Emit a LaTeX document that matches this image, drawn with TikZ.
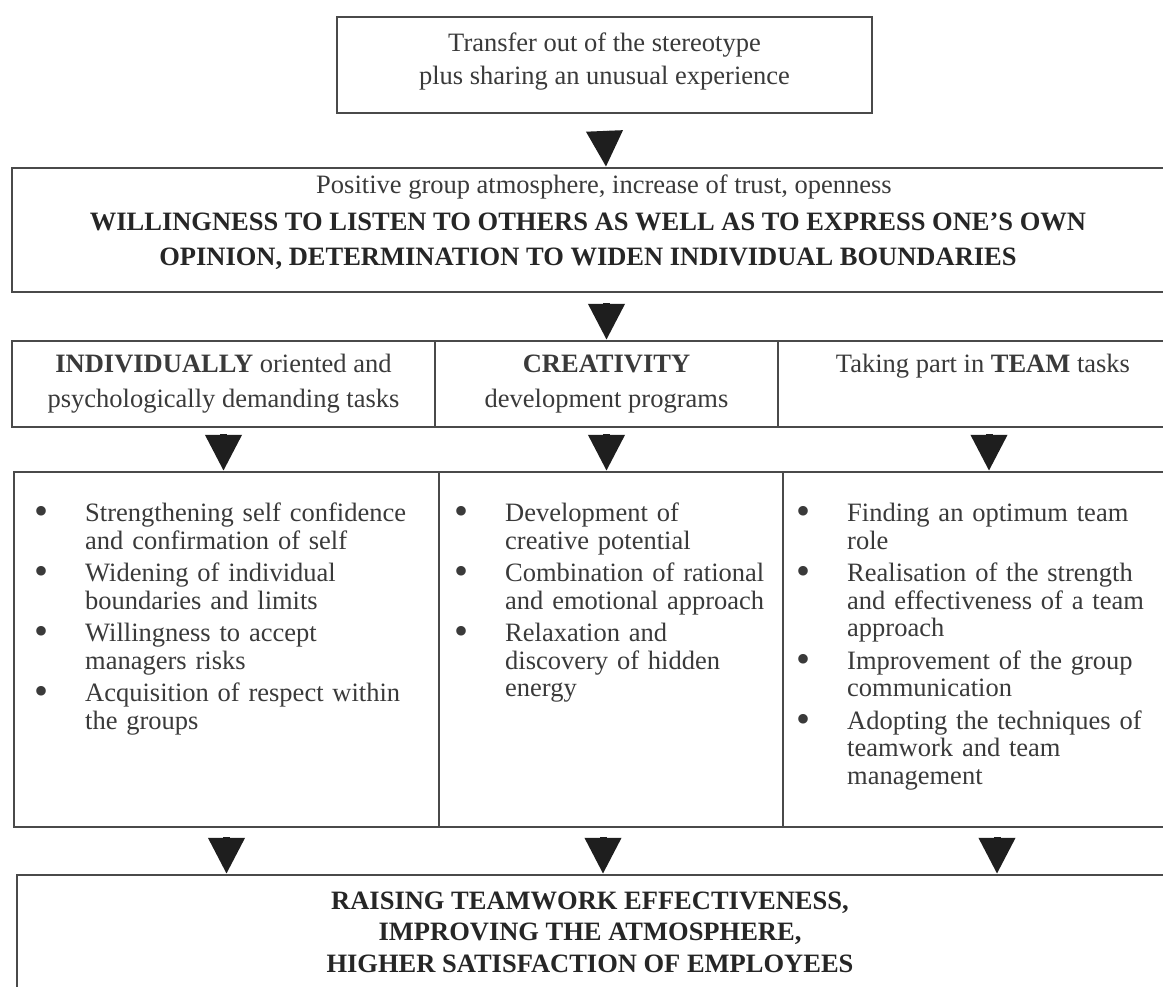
\documentclass[tikz,border=0pt]{standalone}
\usepackage{fontspec}
\setmainfont{Liberation Serif}
\usetikzlibrary{arrows.meta}

\definecolor{ink}{HTML}{3A3A3A}
\definecolor{inkdark}{HTML}{262626}
\definecolor{frame}{HTML}{4A4A4A}
\definecolor{arrowink}{HTML}{1E1E1E}

% bullet list used inside the outcome cells
\newcommand{\bigdot}{\raisebox{-3pt}{\fontsize{40}{40}\selectfont\textbullet}}
\newenvironment{gainlist}{%
  \begin{list}{\bigdot}{%
    \setlength{\leftmargin}{50pt}\setlength{\labelwidth}{16pt}%
    \setlength{\labelsep}{37pt}\setlength{\itemsep}{5pt}%
    \setlength{\parsep}{0pt}\setlength{\topsep}{0pt}%
    \setlength{\partopsep}{0pt}\setlength{\itemindent}{0pt}}}%
  {\end{list}}

\begin{document}
\begin{tikzpicture}[x=1pt,y=-1pt,
  box/.style={draw=frame, line width=2.2pt, rectangle, inner sep=0pt},
  txt/.style={text=ink, font=\fontsize{26.5}{33}\selectfont, align=center, inner sep=0pt},
  boldtxt/.style={text=inkdark, font=\fontsize{26.5}{35}\selectfont\bfseries, align=center, inner sep=0pt},
  listtxt/.style={text=ink, font=\fontsize{26.5}{27.5}\selectfont, align=left,
    inner sep=0pt, anchor=north west},
  flow/.style={draw=arrowink, line width=7pt, -{Triangle[length=36pt,width=35pt]}}
]
\useasboundingbox (0,0) rectangle (1163,987);
\clip (0,0) rectangle (1163,987);
\fill[white] (0,0) rectangle (1163,987);

% starting point
\node[box, minimum width=535pt, minimum height=96pt] (start) at (604.5,65) {};
\node[txt, anchor=north, font=\fontsize{26.5}{33}\selectfont] (starttext) at (604.5,33)
  {Transfer out of the stereotype\\plus sharing an unusual experience};

% group atmosphere
\node[box, minimum width=1188pt, minimum height=124pt] (mood) at (606,230) {};
\node[txt, anchor=north] (moodtitle) at (604,175)
  {Positive group atmosphere, increase of trust, openness};
\node[boldtxt, anchor=north] (moodbold) at (588,212.5)
  {WILLINGNESS TO LISTEN TO OTHERS AS WELL AS TO EXPRESS ONE’S OWN\\
   OPINION, DETERMINATION TO WIDEN INDIVIDUAL BOUNDARIES};

% three kinds of tasks
\node[box, txt, font=\fontsize{26.5}{35}\selectfont, minimum width=423pt, minimum height=86pt] (indiv) at (223.5,384)
  {\textbf{INDIVIDUALLY} oriented and\\psychologically demanding tasks};
\node[box, txt, font=\fontsize{26.5}{35}\selectfont, minimum width=343pt, minimum height=86pt] (creat) at (606.5,384)
  {\textbf{CREATIVITY}\\development programs};
\node[box, minimum width=422pt, minimum height=86pt] (team) at (989,384) {};
\node[txt, anchor=base] (teamtext) at (983,372)
  {Taking part in \textbf{TEAM} tasks};

% what each kind of task brings
\node[box, minimum width=425pt, minimum height=355pt] (gains1) at (226.5,649.5) {};
\node[box, minimum width=344pt, minimum height=355pt] (gains2) at (611,649.5) {};
\node[box, minimum width=428pt, minimum height=355pt] (gains3) at (997,649.5) {};

\node[listtxt, text width=400pt] (points1) at (35,494) {%
  \begin{gainlist}
  \item Strengthening self confidence\newline and confirmation of self
  \item Widening of individual\newline boundaries and limits
  \item Willingness to accept\newline managers risks
  \item Acquisition of respect within\newline the groups
  \end{gainlist}};
\node[listtxt, text width=330pt] (points2) at (455,494) {%
  \begin{gainlist}
  \item Development of\newline creative potential
  \item Combination of rational\newline and emotional approach
  \item Relaxation and\newline discovery of hidden\newline energy
  \end{gainlist}};
\node[listtxt, text width=400pt] (points3) at (797,494) {%
  \begin{gainlist}
  \item Finding an optimum team\newline role
  \item Realisation of the strength\newline and effectiveness of a team\newline approach
  \item Improvement of the group\newline communication
  \item Adopting the techniques of\newline teamwork and team\newline management
  \end{gainlist}};

% overall result
\node[box, minimum width=1183pt, minimum height=135pt] (outcome) at (608.5,942.5) {};
\node[boldtxt, anchor=north, font=\fontsize{26.5}{31.5}\selectfont\bfseries] (outcometext) at (590,891.5)
  {RAISING TEAMWORK EFFECTIVENESS,\\IMPROVING THE ATMOSPHERE,\\HIGHER SATISFACTION OF EMPLOYEES};

% connectors
\draw[flow] ([yshift=-17pt]start.south) -- (mood.north);
\draw[flow] ([yshift=-10pt]mood.south -| creat.north) -- (creat.north);
\draw[flow] ([yshift=-6pt]indiv.south) -- (indiv.south |- gains1.north);
\draw[flow] ([yshift=-6pt]creat.south) -- (creat.south |- gains2.north);
\draw[flow] ([yshift=-6pt]team.south) -- (team.south |- gains3.north);
\draw[flow] ([yshift=-9pt]gains1.south) -- (gains1.south |- outcome.north);
\draw[flow] ([xshift=-8pt,yshift=-9pt]gains2.south) -- ([xshift=-8pt]gains2.south |- outcome.north);
\draw[flow] ([yshift=-9pt]gains3.south) -- (gains3.south |- outcome.north);
\end{tikzpicture}
\end{document}
